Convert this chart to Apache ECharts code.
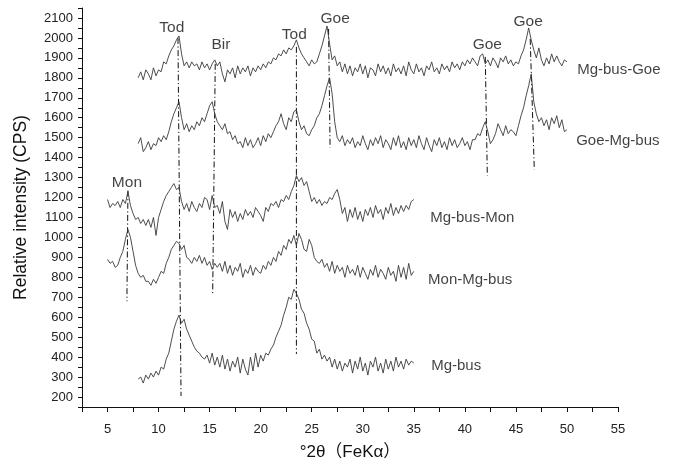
<!DOCTYPE html>
<html>
<head>
<meta charset="utf-8">
<script src="https://cdn.jsdelivr.net/npm/echarts@6/dist/echarts.min.js"></script>
<style>
html,body{margin:0;padding:0;background:#fff;}
#chart{width:683px;height:466px;}
</style>
</head>
<body>
<div id="chart"></div>
<script>
// ---- data (2θ step 0.25°) ----
const STEP = 0.25;
const mgBusGoeStart = 8;
const mgBusGoe = [
1800,1830,1790,1840, 1820,1790,1850,1810, 1840,1830,1880,1870, 1910,1940,1960,1990,
2010,1920,1860,1880, 1850,1880,1860,1870, 1840,1880,1850,1870, 1840,1870,1890,1860,
1880,1820,1780,1840, 1820,1850,1800,1860, 1820,1850,1830,1860, 1810,1850,1830,1860,
1840,1870,1850,1880, 1870,1900,1890,1920, 1910,1940,1920,1950, 1940,1960,1990,1950,
1920,1900,1880,1860, 1890,1870,1880,1920, 1960,2010,2060,1970, 1890,1910,1860,1880,
1830,1870,1820,1860, 1810,1850,1830,1870, 1820,1860,1800,1850, 1840,1810,1870,1830,
1860,1820,1850,1810, 1870,1830,1850,1820, 1860,1810,1880,1840, 1820,1870,1830,1850,
1810,1860,1840,1880, 1830,1850,1820,1870, 1840,1860,1830,1880, 1850,1870,1840,1880,
1860,1890,1870,1900, 1880,1860,1910,1920, 1870,1890,1860,1900, 1880,1850,1900,1880,
1910,1870,1890,1860, 1880,1870,1910,1940, 1990,2050,1990,1940, 1900,1950,1890,1860,
1900,1870,1920,1880, 1910,1880,1860,1890, 1880
];
const goeMgBusStart = 8;
const goeMgBus = [
1470,1500,1430,1450, 1480,1440,1470,1460, 1500,1480,1510,1490, 1530,1580,1620,1650,
1680,1600,1540,1570, 1530,1560,1540,1580, 1560,1600,1580,1620, 1660,1680,1620,1580,
1560,1540,1570,1520, 1530,1490,1510,1470, 1480,1450,1500,1460, 1490,1450,1470,1500,
1460,1510,1480,1520, 1500,1530,1560,1580, 1620,1570,1540,1600, 1580,1630,1640,1580,
1540,1560,1520,1510, 1540,1560,1600,1620, 1660,1710,1760,1800, 1720,1580,1500,1480,
1510,1460,1490,1470, 1500,1450,1480,1460, 1510,1470,1440,1490, 1460,1500,1470,1510,
1450,1490,1470,1440, 1500,1460,1510,1450, 1480,1440,1500,1460, 1490,1450,1510,1470,
1440,1500,1460,1430, 1490,1460,1500,1450, 1480,1440,1500,1460, 1490,1450,1470,1500,
1460,1480,1440,1490, 1490,1520,1510,1550, 1580,1530,1470,1490, 1520,1570,1540,1510,
1560,1520,1540,1530, 1510,1560,1610,1650, 1710,1760,1820,1680, 1620,1580,1600,1560,
1590,1540,1600,1570, 1610,1550,1590,1530, 1540
];
const mgBusMonStart = 5;
const mgBusMon = [
1190,1150,1170,1160, 1180,1150,1190,1170, 1230,1160,1120,1090, 1100,1070,1090,1060,
1090,1050,1100,1010, 1100,1140,1180,1210, 1230,1250,1270,1240, 1250,1180,1140,1170,
1130,1180,1150,1130, 1170,1150,1200,1190, 1140,1210,1150,1160, 1120,1180,1080,1040,
1140,1100,1130,1080, 1120,1090,1140,1110, 1130,1100,1150,1130, 1110,1080,1150,1130,
1170,1160,1180,1150, 1190,1180,1210,1190, 1230,1260,1310,1280, 1300,1260,1280,1230,
1180,1200,1170,1190, 1160,1180,1170,1200, 1190,1220,1240,1190, 1120,1150,1080,1140,
1100,1150,1090,1130, 1080,1140,1110,1150, 1100,1160,1120,1140, 1090,1150,1120,1170,
1110,1150,1120,1160, 1130,1160,1140,1180, 1190
];
const monMgBusStart = 5;
const monMgBus = [
890,870,880,850, 860,900,930,990, 1040,1000,930,860, 820,800,810,780,
780,760,790,770, 800,830,820,870, 900,940,960,980, 970,940,960,900,
890,870,900,880, 910,870,900,860, 880,840,870,850, 870,830,880,820,
860,810,850,830, 870,800,840,820, 860,810,850,830, 820,860,840,880,
860,900,880,930, 910,960,940,990, 970,1010,960,1020, 990,940,930,990,
960,900,880,870, 890,850,870,830, 880,820,860,830, 850,800,860,820,
840,810,860,800, 850,820,790,840, 810,860,800,840, 820,790,850,810,
830,780,860,800, 850,790,870,810, 830
];
const mgBusStart = 8;
const mgBus = [
290,300,270,310, 290,320,300,330, 310,350,340,390, 420,480,540,580,
610,570,590,540, 510,480,450,430, 420,400,390,410, 370,420,360,400,
350,410,340,390, 330,380,350,400, 320,390,340,310, 400,330,420,350,
410,380,420,410, 440,460,500,530, 560,610,650,700, 690,740,720,690,
640,620,570,540, 490,480,420,440, 390,410,380,400, 350,390,340,380,
330,370,350,390, 320,380,340,400, 330,370,310,380, 350,400,330,370,
320,390,340,380, 330,400,350,380, 340,390,360,380, 370
];
const xTicks = [5,10,15,20,25,30,35,40,45,50,55];
const yTicks = [200,300,400,500,600,700,800,900,1000,1100,1200,1300,1400,1500,1600,1700,1800,1900,2000,2100];

// annotations: dash-dot reference lines [x1,y1,x2,y2]
const refLines = [
  [11.9, 2000, 12.2, 205],
  [15.55, 1870, 15.3, 712],
  [23.5, 1955, 23.5, 416],
  [26.65, 2045, 26.8, 1450],
  [42.0, 1905, 42.2, 1310],
  [46.4, 1995, 46.8, 1340],
  [7.0, 1235, 6.9, 680]
];
const peakLabels = [
  ['Tod', 11.3, 2051], ['Bir', 16.1, 1968], ['Tod', 23.3, 2017], ['Goe', 27.3, 2096],
  ['Goe', 42.2, 1968], ['Goe', 46.2, 2081], ['Mon', 6.9, 1273]
];
const seriesLabels = [
  ['Mg-bus-Goe', 51.0, 1840], ['Goe-Mg-bus', 50.9, 1485], ['Mg-bus-Mon', 36.6, 1096],
  ['Mon-Mg-bus', 36.4, 785], ['Mg-bus', 36.7, 357]
];

function toPairs(start, vals){ return vals.map((v,i)=>[start + i*STEP, v]); }
const FONT = '"Liberation Sans", Arial, "Noto Sans CJK SC", sans-serif';

const traces = [
  ['Mg-bus-Goe', mgBusGoeStart, mgBusGoe],
  ['Goe-Mg-bus', goeMgBusStart, goeMgBus],
  ['Mg-bus-Mon', mgBusMonStart, mgBusMon],
  ['Mon-Mg-bus', monMgBusStart, monMgBus],
  ['Mg-bus', mgBusStart, mgBus]
];

const series = [];
traces.forEach(t => series.push({
  name: t[0], type: 'line', data: toPairs(t[1], t[2]), showSymbol: false, symbol: 'none',
  lineStyle: {color: '#3a3a3a', width: 0.9}, silent: true, animation: false, z: 3
}));
refLines.forEach(r => series.push({
  type: 'line', data: [[r[0], r[1]], [r[2], r[3]]], symbol: 'none', silent: true, animation: false,
  lineStyle: {color: '#111', width: 1, type: [6, 2.5, 1.2, 2.5]}, z: 2
}));
series.push({
  type: 'scatter', symbolSize: 0, silent: true, animation: false,
  data: peakLabels.map(p => ({value: [p[1], p[2]], name: p[0]})),
  label: {show: true, position: 'inside', formatter: p => p.name, color: '#111', fontSize: 15.5, fontFamily: FONT}
});
series.push({
  type: 'scatter', symbolSize: 0, silent: true, animation: false,
  data: seriesLabels.map(p => ({value: [p[1], p[2]], name: p[0]})),
  label: {show: true, position: 'right', distance: 0, formatter: p => p.name, color: '#111', fontSize: 15, fontFamily: FONT}
});

const chart = echarts.init(document.getElementById('chart'), null, {renderer: 'canvas'});
chart.setOption({
  backgroundColor: '#fff',
  animation: false,
  grid: {left: 82, right: 65, top: 8, bottom: 52, containLabel: false},
  xAxis: {
    type: 'value', min: 2.5, max: 55, interval: 2.5,
    name: '°2θ（FeKα）', nameLocation: 'middle', nameGap: 37,
    nameTextStyle: {fontSize: 17, color: '#111', fontFamily: FONT},
    axisLine: {onZero: false, lineStyle: {color: '#111', width: 1}},
    axisTick: {show: true, length: 5, lineStyle: {color: '#111'}},
    axisLabel: {color: '#222', fontSize: 13, fontFamily: FONT, margin: 16,
      formatter: v => xTicks.indexOf(v) >= 0 ? String(v) : ''},
    splitLine: {show: false}
  },
  yAxis: {
    type: 'value', min: 150, max: 2150, interval: 50,
    name: 'Relative intensity (CPS)', nameLocation: 'middle', nameGap: 52,
    nameTextStyle: {fontSize: 17.5, color: '#111', fontFamily: FONT},
    axisLine: {show: true, onZero: false, lineStyle: {color: '#111', width: 1}},
    axisTick: {show: true, length: 4, lineStyle: {color: '#111'}},
    axisLabel: {color: '#222', fontSize: 13, fontFamily: FONT, margin: 9,
      formatter: v => yTicks.indexOf(v) >= 0 ? String(v) : ''},
    splitLine: {show: false}
  },
  series: series
});
</script>
</body>
</html>
